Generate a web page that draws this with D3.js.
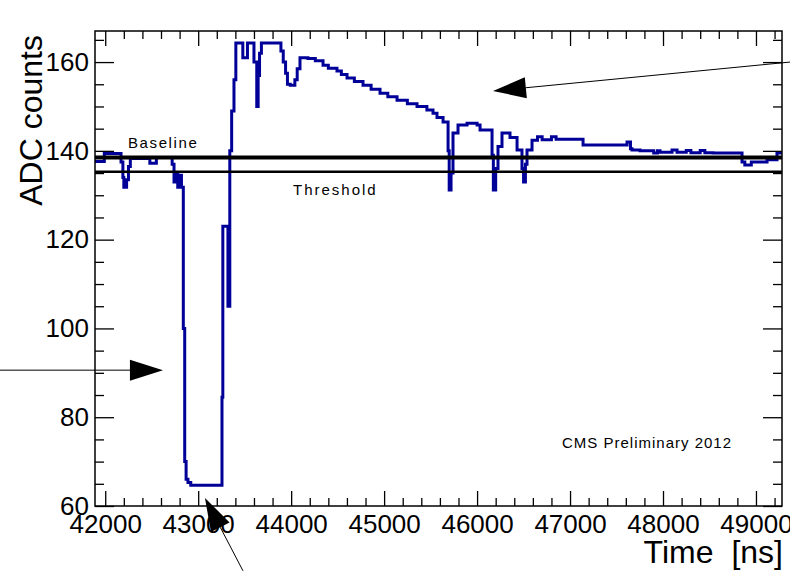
<!DOCTYPE html>
<html>
<head>
<meta charset="utf-8">
<script src="https://cdn.jsdelivr.net/npm/d3@7"></script>
<style>
  body { margin: 0; background: #fff; }
  text { font-family: "Liberation Sans", Arial, sans-serif; }
</style>
</head>
<body>
<div id="chart"></div>
<script>
var W = 790, H = 571;

// waveform, step-after (time in ns, ADC counts)
var times = [41890, 41990, 42170, 42190, 42200, 42230, 42250, 42270, 42480, 42550,
  42720, 42740, 42760, 42780, 42800, 42820, 42840, 42855, 42870, 42890, 42920,
  43256, 43265, 43320, 43340, 43360, 43385, 43405, 43480, 43530, 43600, 43630,
  43645, 43660, 43680, 43890, 43915, 43940, 43960, 43990, 44040, 44065, 44095,
  44180, 44260, 44343, 44400, 44493, 44540, 44601, 44680, 44773, 44860, 44956,
  45040, 45139, 45250, 45354, 45460, 45526, 45569, 45634, 45688, 45700, 45720,
  45741, 45795, 45892, 46000, 46032, 46161, 46175, 46200, 46225, 46268, 46354,
  46430, 46483, 46500, 46520, 46537, 46591, 46650, 46700, 46800, 46850, 47140,
  47613, 47650, 47667, 47753, 47900, 47940, 47968, 48097, 48151, 48250, 48300,
  48400, 48450, 48538, 48850, 48880, 48950, 49043, 49119, 49226, 49290];
var adc = [137.6, 139.4, 137.5, 134, 131.8, 133.5, 136.5, 138.3, 137.2, 138.5,
  137, 133, 135, 131.8, 134.5, 131.8, 100, 70, 66, 65.3, 64.7,
  84.5, 123, 105, 140, 149, 156, 164.3, 161, 164.3, 160, 150,
  157, 162, 164.3, 162.5, 160, 157.5, 155, 154.8, 156, 158.5, 161,
  160.8, 160.3, 159.3, 158.6, 158, 157.2, 156.4, 155.6, 154.8, 153.9, 153,
  152.2, 151.4, 150.6, 150, 149.2, 148.5, 147.5, 146.5, 140, 131.2, 135,
  144, 145.8, 146.2, 145.8, 144.7, 139, 131.2, 136, 141, 144, 143,
  140.2, 136, 133, 137, 140.2, 142.4, 143.2, 142.5, 143.2, 142.6, 141.3,
  142, 140.5, 140.2, 140, 139.5, 140, 139.7, 140.2, 139.7, 140.1, 139.6,
  140.1, 139.6, 139.5, 137.5, 136.8, 137.5, 137.5, 138, 139.5, 139.5];

var baseline = 138.5;
var threshold = 135.3;

var xMajor = [42000, 43000, 44000, 45000, 46000, 47000, 48000, 49000];
var yMajor = [60, 80, 100, 120, 140, 160];

// arrows: tail -> tip, in data units
var arrowTails = [[49366, 160], [40868, 90.6], [43482, 45.4]];
var arrowTips = [[46171, 153.5], [42621, 90.6], [43073, 61.8]];

var svg = d3.select("#chart").append("svg")
  .attr("width", W)
  .attr("height", H);
svg.append("rect").attr("width", W).attr("height", H).attr("fill", "#fff");

var x = d3.scaleLinear().domain([41890, 49280]).range([95, 782]);
var y = d3.scaleLinear().domain([60, 167]).range([506, 31]);

svg.append("clipPath").attr("id", "clip")
  .append("rect")
  .attr("x", 95).attr("y", 31)
  .attr("width", 782 - 95).attr("height", 506 - 31);

// waveform
var pts = times.map((t, i) => [t, adc[i]]);
var line = d3.line()
  .x(d => x(d[0]))
  .y(d => y(d[1]))
  .curve(d3.curveStepAfter);

svg.append("path")
  .datum(pts)
  .attr("clip-path", "url(#clip)")
  .attr("d", line)
  .attr("fill", "none")
  .attr("stroke", "#000099")
  .attr("stroke-width", 3);

// baseline / threshold
svg.append("line")
  .attr("x1", x.range()[0]).attr("x2", x.range()[1])
  .attr("y1", y(baseline)).attr("y2", y(baseline))
  .attr("stroke", "#000").attr("stroke-width", 4);
svg.append("line")
  .attr("x1", x.range()[0]).attr("x2", x.range()[1])
  .attr("y1", y(threshold)).attr("y2", y(threshold))
  .attr("stroke", "#000").attr("stroke-width", 2.5);

// minor ticks
var xMinor = d3.range(42000, 49281, 200).filter(v => v % 1000 != 0);
var yMinor = d3.range(60, 167, 5).filter(v => v % 20 != 0);

function tickAxis(gen, tr, vals, size, labels) {
  var g = svg.append("g").attr("transform", tr)
    .call(gen.tickValues(vals).tickSize(size).tickPadding(labels ? 9 : 0)
      .tickFormat(labels ? d3.format("d") : ""));
  g.select(".domain").remove();
  g.selectAll(".tick line").attr("stroke", "#000").attr("stroke-width", 1.3);
  return g;
}

var gx = tickAxis(d3.axisBottom(x), "translate(0,506)", xMajor, -15, true);
tickAxis(d3.axisBottom(x), "translate(0,506)", xMinor, -8, false);
tickAxis(d3.axisTop(x), "translate(0,31)", xMajor, -15, false);
tickAxis(d3.axisTop(x), "translate(0,31)", xMinor, -8, false);

var gy = tickAxis(d3.axisLeft(y), "translate(95,0)", yMajor, -19, true);
gy.selectAll(".tick text").attr("dx", 3);
tickAxis(d3.axisLeft(y), "translate(95,0)", yMinor, -9, false);
tickAxis(d3.axisRight(y), "translate(782,0)", yMajor, -19, false);
tickAxis(d3.axisRight(y), "translate(782,0)", yMinor, -9, false);

gx.selectAll(".tick text").attr("font-size", 26).attr("fill", "#000")
  .attr("font-family", "Liberation Sans, Arial, sans-serif");
gy.selectAll(".tick text").attr("font-size", 26).attr("fill", "#000")
  .attr("font-family", "Liberation Sans, Arial, sans-serif");

// frame
svg.append("rect")
  .attr("x", 95).attr("y", 31)
  .attr("width", 782 - 95).attr("height", 506 - 31)
  .attr("fill", "none").attr("stroke", "#000").attr("stroke-width", 1.5);

// axis titles
svg.append("text")
  .attr("x", 783).attr("y", 563)
  .attr("text-anchor", "end")
  .attr("font-size", 32)
  .attr("word-spacing", 9)
  .text("Time [ns]");
svg.append("text")
  .attr("transform", "translate(42,35) rotate(-90)")
  .attr("text-anchor", "end")
  .attr("font-size", 32)
  .text("ADC counts");

// labels
svg.append("text")
  .attr("x", 128).attr("y", 148)
  .attr("font-size", 15).attr("letter-spacing", 1.6)
  .text("Baseline");
svg.append("text")
  .attr("x", 293).attr("y", 195)
  .attr("font-size", 15).attr("letter-spacing", 2)
  .text("Threshold");
svg.append("text")
  .attr("x", 562).attr("y", 448)
  .attr("font-size", 15).attr("letter-spacing", 1)
  .text("CMS Preliminary 2012");

// arrows
arrowTails.forEach(function (a, i) {
  var b = arrowTips[i];
  var x0 = x(a[0]), y0 = y(a[1]), x1 = x(b[0]), y1 = y(b[1]);
  var ang = Math.atan2(y1 - y0, x1 - x0);
  var len = 33, hw = 10.5;
  var bx = x1 - len * Math.cos(ang), by = y1 - len * Math.sin(ang);
  svg.append("line")
    .attr("x1", x0).attr("y1", y0).attr("x2", bx).attr("y2", by)
    .attr("stroke", "#000").attr("stroke-width", 1);
  var p = [[x1, y1],
    [bx + hw * Math.sin(ang), by - hw * Math.cos(ang)],
    [bx - hw * Math.sin(ang), by + hw * Math.cos(ang)]];
  svg.append("path")
    .attr("d", "M" + p.map(q => q.join(",")).join("L") + "Z")
    .attr("fill", "#000");
});
</script>
</body>
</html>
